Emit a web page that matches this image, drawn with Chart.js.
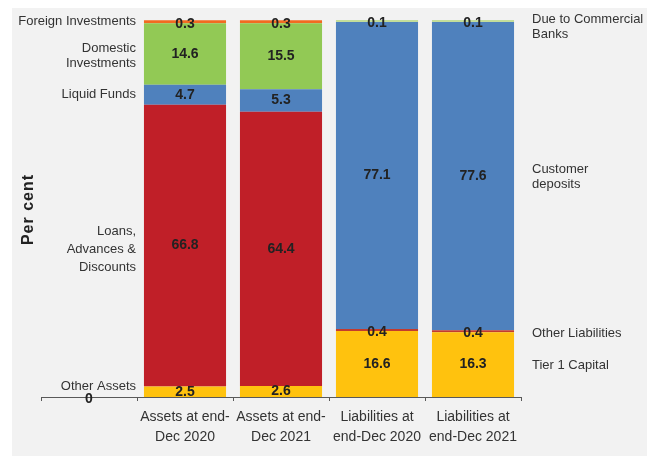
<!DOCTYPE html>
<html>
<head>
<meta charset="utf-8">
<script src="https://cdn.jsdelivr.net/npm/chart.js@4"></script>
<style>
    html, body { margin: 0; padding: 0; background: #ffffff; }
    #wrap { width: 647px; height: 456px; }
</style>
</head>
<body>
<div id="wrap"><canvas id="balanceChart" width="647" height="456"></canvas></div>
<script>
// Column labels (first column left blank for the asset captions)
const categories = [
    ["", ""],
    ["Assets at end-", "Dec 2020"],
    ["Assets at end-", "Dec 2021"],
    ["Liabilities at", "end-Dec 2020"],
    ["Liabilities at", "end-Dec 2021"]
];

// Asset side, per cent
const otherAssets      = [0, 2.5, 2.6, null, null];
const loansAdvances    = [null, 66.8, 64.4, null, null];
const liquidFunds      = [null, 4.7, 5.3, null, null];
const domesticInv      = [null, 14.6, 15.5, null, null];
const foreignInv       = [null, 0.3, 0.3, null, null];

// Liability side, per cent
const tier1Capital     = [null, null, null, 16.6, 16.3];
const otherLiab        = [null, null, null, 0.4, 0.4];
const customerDeposits = [null, null, null, 77.1, 77.6];
const dueToBanks       = [null, null, null, 0.1, 0.1];

const FONT = "'Liberation Sans', Arial, sans-serif";

// series in stacking order, with caption placement
const series = [
    { name: ["Other Assets"], values: otherAssets, color: "#ffc20e", side: "left", nudge: -5 },
    { name: ["Loans,", "Advances &", "Discounts"], values: loansAdvances, color: "#c01f28", side: "left", nudge: 4, gap: 18 },
    { name: ["Liquid Funds"], values: liquidFunds, color: "#4f81bd", side: "left", nudge: 0 },
    { name: ["Domestic", "Investments"], values: domesticInv, color: "#92c955", side: "left", nudge: 2 },
    { name: ["Foreign Investments"], values: foreignInv, color: "#f26b21", side: "left", nudge: 0, min: 3 },
    { name: ["Tier 1 Capital"], values: tier1Capital, color: "#ffc20e", side: "right", nudge: 1 },
    { name: ["Other Liabilities"], values: otherLiab, color: "#c23b2e", side: "right", nudge: 2, min: 2 },
    { name: ["Customer", "deposits"], values: customerDeposits, color: "#4f81bd", side: "right", nudge: 1 },
    { name: ["Due to Commercial", "Banks"], values: dueToBanks, color: "#c3dd9b", side: "right", nudge: 6, min: 2 }
];

// each column is scaled to 100 (percent-stacked)
const totals = categories.map((c, i) =>
    series.reduce((s, d) => s + (d.values[i] == null ? 0 : d.values[i]), 0));

function shareOf(values) {
    return values.map((v, i) => v == null ? null : (totals[i] ? v / totals[i] * 100 : 0));
}

const annotate = {
    id: "annotate",
    beforeDraw(chart) {
        const ctx = chart.ctx;
        ctx.save();
        ctx.fillStyle = "#f2f2f2";
        ctx.fillRect(12, 8, chart.width - 12, chart.height - 8);
        ctx.restore();
    },
    afterDatasetsDraw(chart) {
        const ctx = chart.ctx;
        const area = chart.chartArea;
        const xScale = chart.scales.x;
        const half = (xScale.getPixelForValue(1) - xScale.getPixelForValue(0)) / 2;
        ctx.save();

        // value labels inside the segments
        ctx.font = "bold 14px " + FONT;
        ctx.fillStyle = "#222222";
        ctx.textAlign = "center";
        ctx.textBaseline = "middle";
        series.forEach((s, di) => {
            const meta = chart.getDatasetMeta(di);
            meta.data.forEach((bar, i) => {
                const v = s.values[i];
                if (v == null) return;
                const h = Math.abs(bar.base - bar.y);
                const y = (bar.y + bar.base) / 2 + (h < 5 ? 2 : 0);
                ctx.fillText(String(v), bar.x, y);
            });
        });

        // series captions beside the columns
        ctx.font = "13px " + FONT;
        ctx.fillStyle = "#333333";
        series.forEach((s, di) => {
            const ref = s.side === "left" ? 1 : 4;
            const bar = chart.getDatasetMeta(di).data[ref];
            const gap = s.gap || 15.5;
            const cy = (bar.y + bar.base) / 2 + s.nudge;
            let x;
            if (s.side === "left") {
                ctx.textAlign = "right";
                x = xScale.getPixelForValue(1) - half - 1;
            } else {
                ctx.textAlign = "left";
                x = area.right + 11;
            }
            s.name.forEach((line, k) => {
                ctx.fillText(line, x, cy + (k - (s.name.length - 1) / 2) * gap);
            });
        });

        // axis title
        ctx.translate(29, (area.top + area.bottom) / 2);
        ctx.rotate(-Math.PI / 2);
        ctx.textAlign = "center";
        ctx.font = "bold 16px " + FONT;
        ctx.letterSpacing = "1px";
        ctx.fillStyle = "#222222";
        ctx.fillText("Per cent", 0, 0);
        ctx.restore();
    }
};

new Chart(document.getElementById("balanceChart"), {
    type: "bar",
    data: {
        labels: categories,
        datasets: series.map(s => ({
            label: s.name.join(" "),
            data: shareOf(s.values),
            backgroundColor: s.color,
            borderWidth: 0,
            minBarLength: s.min || 0,
            clip: false,
            stack: "all",
            barPercentage: 0.855,
            categoryPercentage: 1
        }))
    },
    options: {
        responsive: false,
        animation: false,
        layout: { padding: { left: 41, right: 126, top: 22, bottom: 0 } },
        plugins: {
            legend: { display: false },
            tooltip: { enabled: false }
        },
        scales: {
            x: {
                stacked: true,
                afterFit: s => { s.height = 59; },
                border: { display: true, color: "#595959", width: 1 },
                grid: {
                    display: true,
                    offset: true,
                    drawOnChartArea: false,
                    drawTicks: true,
                    tickLength: 4,
                    color: "#595959"
                },
                ticks: {
                    color: "#333333",
                    padding: 6,
                    maxRotation: 0,
                    font: { family: FONT, size: 14, lineHeight: 1.45 }
                }
            },
            y: {
                stacked: true,
                display: false,
                min: 0,
                max: 100
            }
        }
    },
    plugins: [annotate]
});
</script>
</body>
</html>
